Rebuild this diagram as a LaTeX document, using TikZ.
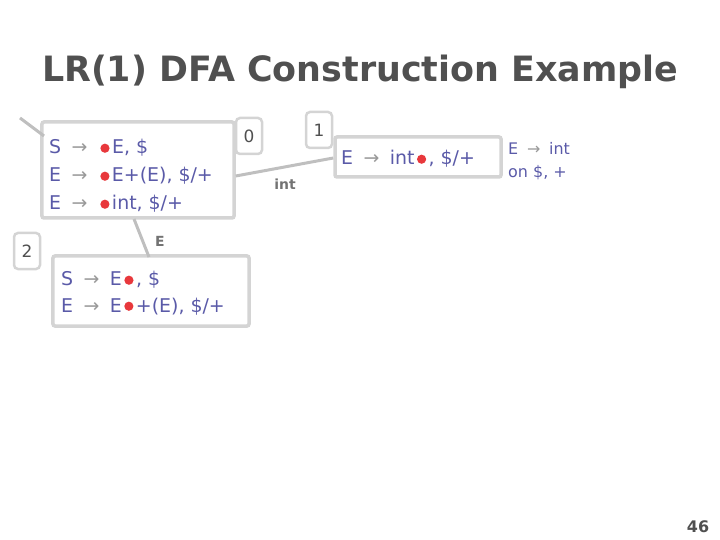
\documentclass[tikz,border=0pt]{standalone}
\usepackage{fontspec}
\setmainfont{DejaVu Sans}
\definecolor{boxgray}{HTML}{D4D4D4}
\definecolor{txtblue}{HTML}{5A5AA8}
\definecolor{titlegray}{HTML}{505050}
\definecolor{arrgray}{HTML}{9A9A9A}
\definecolor{dotred}{HTML}{E8383C}
\newcommand{\dt}{\hspace{2.5pt}\tikz[baseline=0pt]{\fill[dotred] (0pt,5.8pt) circle (4.6pt);}\hspace{2.5pt}}
\newcommand{\ar}{\hspace{0.55em}{\color{arrgray}→}\hspace{0.55em}}
\begin{document}
\begin{tikzpicture}[x=1bp,y=-1bp,
  statebox/.style={draw=boxgray,line width=3.5bp,rounded corners=2bp,fill=white,inner sep=0pt},
  labbox/.style={draw=boxgray,line width=2.5bp,rounded corners=4bp,fill=white,minimum width=26bp,minimum height=36bp,font=\fontsize{17}{20}\selectfont,text=titlegray},
  item/.style={anchor=base west,inner sep=0pt,font=\fontsize{19}{22}\selectfont,text=txtblue},
  conn/.style={draw=boxgray!90!black,line width=3bp},
  elab/.style={font=\fontsize{14}{16}\selectfont\bfseries,text=titlegray!80}]
\useasboundingbox (0,0) rectangle (720,540);
\node[font=\fontsize{35}{40}\selectfont\bfseries,text=titlegray] (title) at (360,72) {LR(1) DFA Construction Example};
% state 0
\node[statebox,minimum width=192bp,minimum height=96bp] (s0) at (138,170) {};
\node[item] (s0a) at (49,154) {S\ar\dt E, \$};
\node[item] (s0b) at (49,182) {E\ar\dt E+(E), \$/+};
\node[item] (s0c) at (49,210) {E\ar\dt int, \$/+};
% state 1
\node[statebox,minimum width=166bp,minimum height=40bp] (s1) at (418,157) {};
\node[item] (s1a) at (341,165) {E\ar int\dt, \$/+};
% state 2
\node[statebox,minimum width=196bp,minimum height=70bp] (s2) at (151,291) {};
\node[item] (s2a) at (61,286) {S\ar E\dt, \$};
\node[item] (s2b) at (61,312) {E\ar E\dt+(E), \$/+};
% labels
\node[labbox] (l0) at (249,136) {0};
\node[labbox] (l1) at (319,130) {1};
\node[labbox] (l2) at (27,251) {2};
% annotation
\node[item,font=\fontsize{16}{19}\selectfont] (ann1) at (508,155) {E\ar int};
\node[item,font=\fontsize{16}{19}\selectfont] (ann2) at (508,178) {on \$, +};
% connectors
\coordinate (start) at (20,118);
\draw[conn] (start) -- (44,136);
\draw[conn] (s0.east |- 0,176) coordinate (e0) -- (s1.west |- 0,158) coordinate (e1);
\node[elab] (lint) at (285,184) {int};
\draw[conn] (134,219) coordinate (e2) -- (149,257) coordinate (e3);
\node[elab] (lE) at (160,241) {E};
\node[font=\fontsize{16}{18}\selectfont\bfseries,text=titlegray] (pg) at (698,527) {46};
\end{tikzpicture}
\end{document}
